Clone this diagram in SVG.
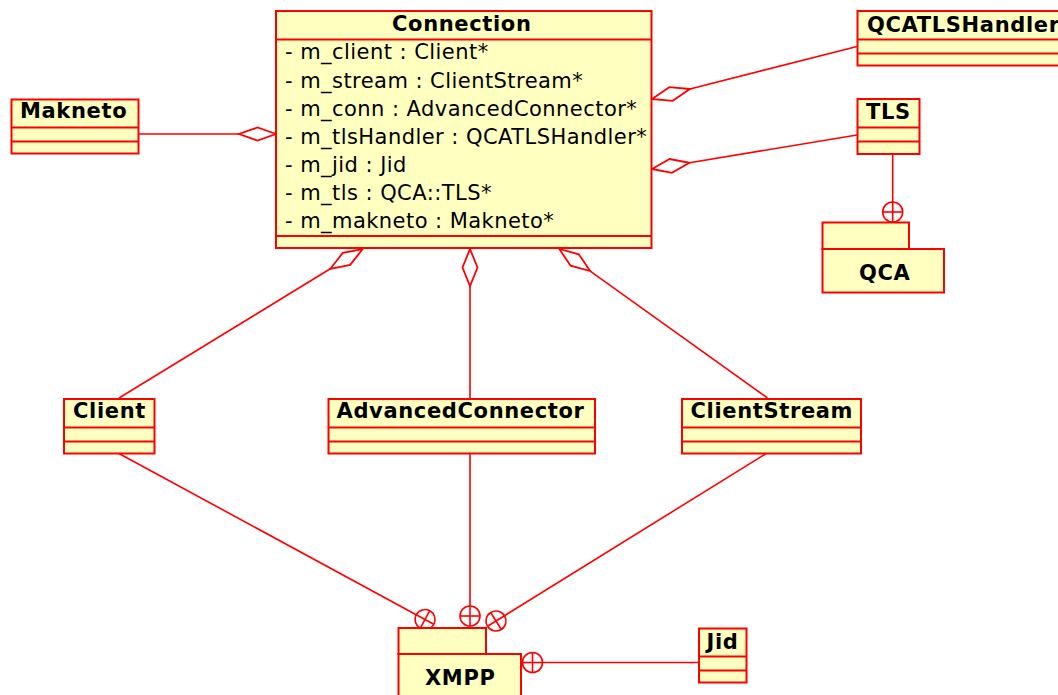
<svg xmlns="http://www.w3.org/2000/svg" width="1058" height="695" viewBox="0 0 1058 695">
<style>
.box{fill:#ffffc0;stroke:#ff0000;stroke-width:2}
.sep{stroke:#ff0000;stroke-width:2;fill:none}
.ln{stroke:#ff0000;stroke-width:1.6;fill:none}
.dia{stroke:#ff0000;stroke-width:1.8;fill:#ffffff}
.circ{stroke:#ff0000;stroke-width:1.6;fill:none}
.t{font-family:"DejaVu Sans",sans-serif;font-size:21px;letter-spacing:0.45px;fill:#000}
.b{font-family:"DejaVu Sans",sans-serif;font-size:21px;font-weight:bold;letter-spacing:0.65px;fill:#000}
</style>
<rect width="1058" height="695" fill="#ffffff"/>
<g id="connectors">
  <line class="ln" x1="138" y1="134" x2="239" y2="134"/>
  <polygon class="dia" points="276,134 257.5,127.5 239,134 257.5,140.5"/>
  <line class="ln" x1="690" y1="89" x2="857" y2="46.5"/>
  <polygon class="dia" points="652,99 672.7,100.8 690,89 669.3,87.2"/>
  <line class="ln" x1="689.5" y1="162.8" x2="857" y2="135"/>
  <polygon class="dia" points="652,169 671.9,172.8 689.5,162.8 669.6,159"/>
  <line class="ln" x1="330.3" y1="268.8" x2="119" y2="398"/>
  <polygon class="dia" points="362.7,249 350.2,264.9 330.3,268.8 342.8,252.9"/>
  <line class="ln" x1="470" y1="286" x2="470" y2="399"/>
  <polygon class="dia" points="470,249 477.5,267.5 470,286 462.5,267.5"/>
  <line class="ln" x1="590.2" y1="271.1" x2="767.5" y2="398"/>
  <polygon class="dia" points="559.3,249 570.6,265.7 590.2,271.1 578.8,254.3"/>
  <line class="ln" x1="892.7" y1="154" x2="892.7" y2="202"/>
  <g transform="translate(892.7,212)">
    <circle class="circ" r="10"/>
    <line class="ln" x1="-10" y1="0" x2="10" y2="0"/>
    <line class="ln" x1="0" y1="-10" x2="0" y2="10"/>
  </g>
  <line class="ln" x1="118" y1="453" x2="416.2" y2="614.7"/>
  <g transform="translate(425,619.5) rotate(28.6)">
    <circle class="circ" r="10"/>
    <line class="ln" x1="-10" y1="0" x2="10" y2="0"/>
    <line class="ln" x1="0" y1="-10" x2="0" y2="10"/>
  </g>
  <line class="ln" x1="470" y1="453" x2="470" y2="606"/>
  <g transform="translate(470,616)">
    <circle class="circ" r="10"/>
    <line class="ln" x1="-10" y1="0" x2="10" y2="0"/>
    <line class="ln" x1="0" y1="-10" x2="0" y2="10"/>
  </g>
  <line class="ln" x1="767" y1="453" x2="504.5" y2="615.7"/>
  <g transform="translate(496,621) rotate(148.2)">
    <circle class="circ" r="10"/>
    <line class="ln" x1="-10" y1="0" x2="10" y2="0"/>
    <line class="ln" x1="0" y1="-10" x2="0" y2="10"/>
  </g>
  <line class="ln" x1="699" y1="662.5" x2="542.5" y2="662.5"/>
  <g transform="translate(532.5,662.5)">
    <circle class="circ" r="10"/>
    <line class="ln" x1="-10" y1="0" x2="10" y2="0"/>
    <line class="ln" x1="0" y1="-10" x2="0" y2="10"/>
  </g>
</g>
<g id="Connection">
  <rect class="box" x="276" y="11" width="375.5" height="237"/>
  <line class="sep" x1="276" y1="39.5" x2="651.5" y2="39.5"/>
  <line class="sep" x1="276" y1="236" x2="651.5" y2="236"/>
  <text class="b" x="392" y="31">Connection</text>
  <text class="t" x="285" y="59">- m_client : Client*</text>
  <text class="t" x="285" y="87.5">- m_stream : ClientStream*</text>
  <text class="t" x="285" y="115.5">- m_conn : AdvancedConnector*</text>
  <text class="t" x="285" y="143.5">- m_tlsHandler : QCATLSHandler*</text>
  <text class="t" x="285" y="171.5">- m_jid : Jid</text>
  <text class="t" x="285" y="199.5">- m_tls : QCA::TLS*</text>
  <text class="t" x="285" y="227.5">- m_makneto : Makneto*</text>
</g>
<g id="QCATLSHandler">
  <rect class="box" x="857.5" y="11" width="210" height="54.5"/>
  <line class="sep" x1="857.5" y1="39.5" x2="1067" y2="39.5"/>
  <line class="sep" x1="857.5" y1="53.5" x2="1067" y2="53.5"/>
  <text class="b" x="867" y="31.5">QCATLSHandler</text>
</g>
<g id="TLS">
  <rect class="box" x="857.5" y="99" width="62" height="55"/>
  <line class="sep" x1="857.5" y1="127.5" x2="919.5" y2="127.5"/>
  <line class="sep" x1="857.5" y1="141.5" x2="919.5" y2="141.5"/>
  <text class="b" x="866" y="119">TLS</text>
</g>
<g id="QCA">
  <rect class="box" x="822.5" y="222.5" width="86.5" height="26.5"/>
  <rect class="box" x="822.5" y="249" width="121.5" height="43.5"/>
  <text class="b" x="859" y="280">QCA</text>
</g>
<g id="Makneto">
  <rect class="box" x="11.5" y="99.5" width="127" height="54"/>
  <line class="sep" x1="11.5" y1="127.5" x2="138.5" y2="127.5"/>
  <line class="sep" x1="11.5" y1="141.5" x2="138.5" y2="141.5"/>
  <text class="b" x="20" y="118">Makneto</text>
</g>
<g id="Client">
  <rect class="box" x="64" y="399" width="90.5" height="54.5"/>
  <line class="sep" x1="64" y1="427.5" x2="154.5" y2="427.5"/>
  <line class="sep" x1="64" y1="441.5" x2="154.5" y2="441.5"/>
  <text class="b" x="73" y="418">Client</text>
</g>
<g id="AdvancedConnector">
  <rect class="box" x="328.5" y="399" width="266.5" height="54.5"/>
  <line class="sep" x1="328.5" y1="427.5" x2="595" y2="427.5"/>
  <line class="sep" x1="328.5" y1="441.5" x2="595" y2="441.5"/>
  <text class="b" x="336.5" y="418">AdvancedConnector</text>
</g>
<g id="ClientStream">
  <rect class="box" x="682" y="399" width="179" height="54.5"/>
  <line class="sep" x1="682" y1="427.5" x2="861" y2="427.5"/>
  <line class="sep" x1="682" y1="441.5" x2="861" y2="441.5"/>
  <text class="b" x="690.5" y="418">ClientStream</text>
</g>
<g id="XMPP">
  <rect class="box" x="398.5" y="628" width="87.5" height="26"/>
  <rect class="box" x="398.5" y="654" width="122.5" height="50"/>
  <text class="b" x="425" y="685">XMPP</text>
</g>
<g id="Jid">
  <rect class="box" x="699" y="628.5" width="47.5" height="54"/>
  <line class="sep" x1="699" y1="656.5" x2="746.5" y2="656.5"/>
  <line class="sep" x1="699" y1="670.5" x2="746.5" y2="670.5"/>
  <text class="b" x="706.5" y="649">Jid</text>
</g>
</svg>
